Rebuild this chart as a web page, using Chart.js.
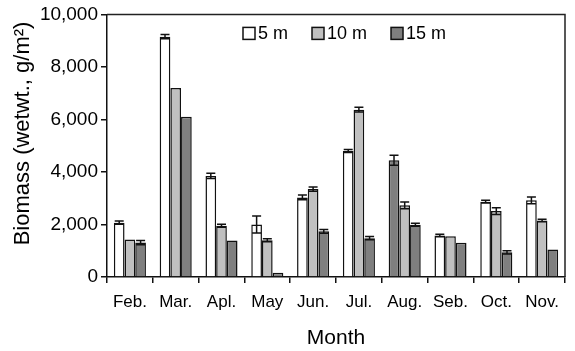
<!DOCTYPE html>
<html>
<head>
<meta charset="utf-8">
<script src="https://cdn.jsdelivr.net/npm/chart.js@4"></script>
<style>
html,body{margin:0;padding:0;background:#fff;}
#wrap{width:575px;height:351px;position:relative;}
</style>
</head>
<body>
<div id="wrap"><canvas id="c" width="575" height="351"></canvas></div>
<script>
const months = ["Feb.","Mar.","Apl.","May","Jun.","Jul.","Aug.","Seb.","Oct.","Nov."];
const seriesNames = ["5 m","10 m","15 m"];
const m5  = [2070, 9150, 3850, 2000, 3030, 4800, 4450, 1580, 2870, 2920];
const m10 = [1430, 7200, 1950, 1400, 3350, 6370, 2730, 1550, 2510, 2150];
const m15 = [1310, 6100, 1390, 160, 1740, 1480, 1990, 1300, 940, 1050];
const e5  = [60, 80, 100, 320, 90, 60, 190, 50, 50, 130];
const e10 = [0, 0, 60, 60, 80, 90, 130, 0, 130, 50];
const e15 = [80, 0, 0, 0, 70, 60, 60, 0, 60, 0];
const yTicks = [0, 2000, 4000, 6000, 8000, 10000];

const WHITE = "#ffffff", LIGHT = "#c0c0c0", DARK = "#7f7f7f";
const m5Colors = months.map(m => m === "Aug." ? DARK : WHITE);
const FONT = "'Liberation Sans', Arial, sans-serif";

const errorBars = {
  id: "errorBars",
  afterDatasetsDraw(chart) {
    const ctx = chart.ctx;
    const ys = chart.scales.y;
    const errs = [e5, e10, e15];
    ctx.save();
    ctx.strokeStyle = "#111";
    ctx.lineWidth = 1.5;
    chart.data.datasets.forEach((ds, di) => {
      const meta = chart.getDatasetMeta(di);
      meta.data.forEach((bar, i) => {
        const e = errs[di][i];
        if (!e) return;
        const v = ds.data[i];
        const yt = ys.getPixelForValue(v + e);
        const yb = ys.getPixelForValue(v - e);
        const x = bar.x;
        const hw = 4.5;
        ctx.beginPath();
        ctx.moveTo(x, yt); ctx.lineTo(x, yb);
        ctx.moveTo(x - hw, yt); ctx.lineTo(x + hw, yt);
        ctx.moveTo(x - hw, yb); ctx.lineTo(x + hw, yb);
        ctx.stroke();
      });
    });
    ctx.restore();
  }
};

const frame = {
  id: "frame",
  afterDraw(chart) {
    const a = chart.chartArea, ctx = chart.ctx;
    ctx.save();
    ctx.strokeStyle = "#222";
    ctx.lineWidth = 1.5;
    ctx.beginPath();
    ctx.moveTo(a.left, a.top);
    ctx.lineTo(a.right, a.top);
    ctx.lineTo(a.right, a.bottom);
    ctx.stroke();
    ctx.restore();
  }
};

const innerLegend = {
  id: "innerLegend",
  afterDraw(chart) {
    const ctx = chart.ctx, a = chart.chartArea;
    const fills = [WHITE, LIGHT, DARK];
    const y = a.top + 19;
    let x = a.left + 136;
    ctx.save();
    ctx.font = "18px " + FONT;
    ctx.textBaseline = "middle";
    ctx.fillStyle = "#000";
    seriesNames.forEach((name, i) => {
      ctx.fillStyle = fills[i];
      ctx.fillRect(x, y - 6, 12, 12);
      ctx.strokeStyle = "#111";
      ctx.lineWidth = 1.5;
      ctx.strokeRect(x, y - 6, 12, 12);
      ctx.fillStyle = "#000";
      ctx.fillText(name, x + 15, y + 1);
      x += 15 + ctx.measureText(name).width + 24;
    });
    ctx.restore();
  }
};

new Chart(document.getElementById("c"), {
  type: "bar",
  data: {
    labels: months,
    datasets: [
      { label: seriesNames[0], data: m5, backgroundColor: m5Colors, borderColor: "#111", borderWidth: 1.5 },
      { label: seriesNames[1], data: m10, backgroundColor: LIGHT, borderColor: "#111", borderWidth: 1.5 },
      { label: seriesNames[2], data: m15, backgroundColor: DARK, borderColor: "#111", borderWidth: 1.5 }
    ]
  },
  options: {
    responsive: false,
    animation: false,
    devicePixelRatio: 1,
    layout: { padding: { top: 10, right: 10, left: 0, bottom: 0 } },
    datasets: { bar: { categoryPercentage: 0.7, barPercentage: 1.0 } },
    plugins: {
      tooltip: { enabled: false },
      legend: { display: false }
    },
    scales: {
      x: {
        offset: true,
        grid: { display: true, drawOnChartArea: false, drawTicks: true, tickLength: 6, color: "#111", offset: true, lineWidth: 1.5 },
        border: { display: true, color: "#111", width: 1.5 },
        ticks: { color: "#000", font: { family: FONT, size: 17 }, padding: 9, maxRotation: 0, autoSkip: false },
        title: { display: true, text: "Month", color: "#000", font: { family: FONT, size: 21 }, padding: { top: 6, bottom: 0 } },
        afterFit(s) { s.height = 74; }
      },
      y: {
        min: 0, max: 10000,
        afterBuildTicks(s) { s.ticks = yTicks.map(v => ({ value: v })); },
        grid: { display: true, drawOnChartArea: false, drawTicks: true, tickLength: 6, color: "#111", lineWidth: 1.5 },
        border: { display: true, color: "#111", width: 1.5 },
        ticks: { color: "#000", font: { family: FONT, size: 19 }, padding: 3,
          callback: v => v.toLocaleString("en-US") },
        title: { display: true, text: "    Biomass (wetwt., g/m²)", color: "#000", font: { family: FONT, size: 22 }, padding: { top: 10, bottom: 0 } },
        afterFit(s) { s.width = 107; }
      }
    }
  },
  plugins: [errorBars, frame, innerLegend]
});
</script>
</body>
</html>
